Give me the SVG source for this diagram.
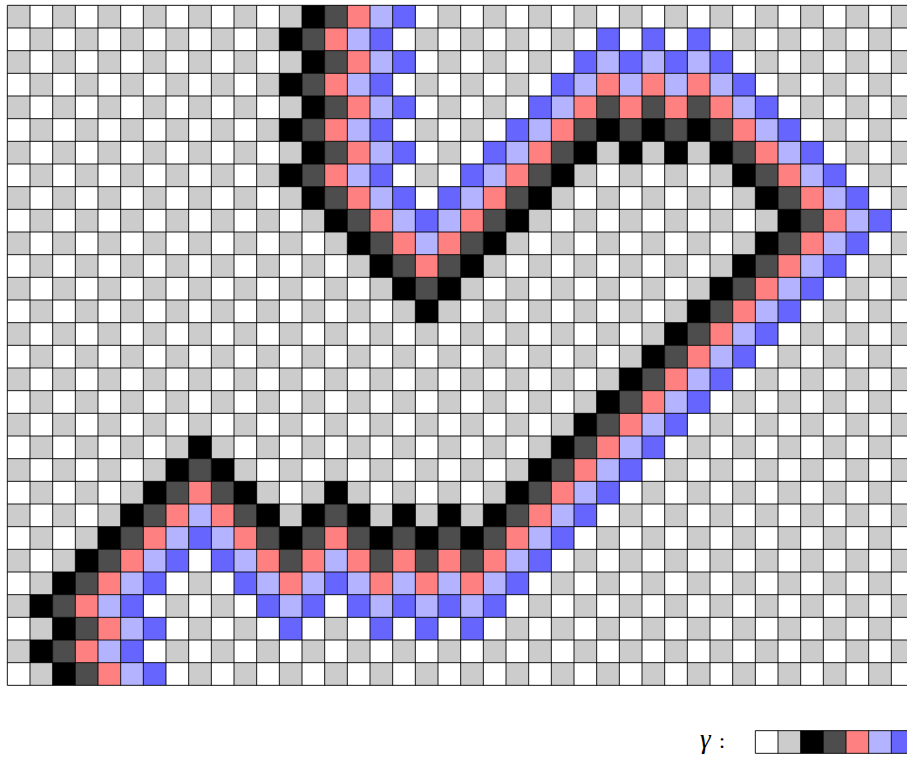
<svg xmlns="http://www.w3.org/2000/svg" width="907" height="757" viewBox="0 0 907 757">
<style>
.k{fill:#000000}
.d{fill:#4d4d4d}
.p{fill:#ff8080}
.l{fill:#b3b3ff}
.b{fill:#6666ff}
.w{fill:#ffffff}
.g{fill:#cccccc}
.grid{fill:none;stroke:#000;stroke-width:0.9px;vector-effect:non-scaling-stroke}
.lab{font-family:"Liberation Serif",serif;font-size:22px;fill:#000}
</style>
<defs>
<pattern id="chkA" patternUnits="userSpaceOnUse" x="0" y="0" width="2" height="2">
<rect x="0" y="0" width="2" height="2" fill="#ffffff"/>
<rect x="0" y="0" width="1" height="1" fill="#cccccc"/>
<rect x="1" y="1" width="1" height="1" fill="#cccccc"/>
</pattern>
<pattern id="chkB" patternUnits="userSpaceOnUse" x="0" y="0" width="2" height="2">
<rect x="0" y="0" width="2" height="2" fill="#ffffff"/>
<rect x="1" y="0" width="1" height="1" fill="#cccccc"/>
<rect x="0" y="1" width="1" height="1" fill="#cccccc"/>
</pattern>
</defs>
<rect x="0" y="0" width="907" height="757" fill="#ffffff"/>
<g id="board" transform="translate(7.333,5.333) scale(22.6667)">
<rect x="0" y="0" width="40" height="30" fill="url(#chkA)"/>
<polygon id="blue-side" points="15,0 15,8 18.5,11.5 26,4 31,4 36.5,9.5 22,24 11,24 8.5,21.5 4,26 4,30 40,30 40,0" fill="url(#chkB)"/>
<path class="k" d="M13 0h1v1h-1zM12 1h1v1h-1zM13 2h1v1h-1zM12 3h1v1h-1zM13 4h1v1h-1zM12 5h1v1h-1zM26 5h1v1h-1zM28 5h1v1h-1zM30 5h1v1h-1zM13 6h1v1h-1zM25 6h1v1h-1zM27 6h1v1h-1zM29 6h1v1h-1zM31 6h1v1h-1zM12 7h1v1h-1zM24 7h1v1h-1zM32 7h1v1h-1zM13 8h1v1h-1zM23 8h1v1h-1zM33 8h1v1h-1zM14 9h1v1h-1zM22 9h1v1h-1zM34 9h1v1h-1zM15 10h1v1h-1zM21 10h1v1h-1zM33 10h1v1h-1zM16 11h1v1h-1zM20 11h1v1h-1zM32 11h1v1h-1zM17 12h1v1h-1zM19 12h1v1h-1zM31 12h1v1h-1zM18 13h1v1h-1zM30 13h1v1h-1zM29 14h1v1h-1zM28 15h1v1h-1zM27 16h1v1h-1zM26 17h1v1h-1zM25 18h1v1h-1zM8 19h1v1h-1zM24 19h1v1h-1zM7 20h1v1h-1zM9 20h1v1h-1zM23 20h1v1h-1zM6 21h1v1h-1zM10 21h1v1h-1zM14 21h1v1h-1zM22 21h1v1h-1zM5 22h1v1h-1zM11 22h1v1h-1zM13 22h1v1h-1zM15 22h1v1h-1zM17 22h1v1h-1zM19 22h1v1h-1zM21 22h1v1h-1zM4 23h1v1h-1zM12 23h1v1h-1zM16 23h1v1h-1zM18 23h1v1h-1zM20 23h1v1h-1zM3 24h1v1h-1zM2 25h1v1h-1zM1 26h1v1h-1zM2 27h1v1h-1zM1 28h1v1h-1zM2 29h1v1h-1z"/>
<path class="d" d="M14 0h1v1h-1zM13 1h1v1h-1zM14 2h1v1h-1zM13 3h1v1h-1zM14 4h1v1h-1zM26 4h1v1h-1zM28 4h1v1h-1zM30 4h1v1h-1zM13 5h1v1h-1zM25 5h1v1h-1zM27 5h1v1h-1zM29 5h1v1h-1zM31 5h1v1h-1zM14 6h1v1h-1zM24 6h1v1h-1zM32 6h1v1h-1zM13 7h1v1h-1zM23 7h1v1h-1zM33 7h1v1h-1zM14 8h1v1h-1zM22 8h1v1h-1zM34 8h1v1h-1zM15 9h1v1h-1zM21 9h1v1h-1zM35 9h1v1h-1zM16 10h1v1h-1zM20 10h1v1h-1zM34 10h1v1h-1zM17 11h1v1h-1zM19 11h1v1h-1zM33 11h1v1h-1zM18 12h1v1h-1zM32 12h1v1h-1zM31 13h1v1h-1zM30 14h1v1h-1zM29 15h1v1h-1zM28 16h1v1h-1zM27 17h1v1h-1zM26 18h1v1h-1zM25 19h1v1h-1zM8 20h1v1h-1zM24 20h1v1h-1zM7 21h1v1h-1zM9 21h1v1h-1zM23 21h1v1h-1zM6 22h1v1h-1zM10 22h1v1h-1zM14 22h1v1h-1zM22 22h1v1h-1zM5 23h1v1h-1zM11 23h1v1h-1zM13 23h1v1h-1zM15 23h1v1h-1zM17 23h1v1h-1zM19 23h1v1h-1zM21 23h1v1h-1zM4 24h1v1h-1zM12 24h1v1h-1zM16 24h1v1h-1zM18 24h1v1h-1zM20 24h1v1h-1zM3 25h1v1h-1zM2 26h1v1h-1zM3 27h1v1h-1zM2 28h1v1h-1zM3 29h1v1h-1z"/>
<path class="p" d="M15 0h1v1h-1zM14 1h1v1h-1zM15 2h1v1h-1zM14 3h1v1h-1zM26 3h1v1h-1zM28 3h1v1h-1zM30 3h1v1h-1zM15 4h1v1h-1zM25 4h1v1h-1zM27 4h1v1h-1zM29 4h1v1h-1zM31 4h1v1h-1zM14 5h1v1h-1zM24 5h1v1h-1zM32 5h1v1h-1zM15 6h1v1h-1zM23 6h1v1h-1zM33 6h1v1h-1zM14 7h1v1h-1zM22 7h1v1h-1zM34 7h1v1h-1zM15 8h1v1h-1zM21 8h1v1h-1zM35 8h1v1h-1zM16 9h1v1h-1zM20 9h1v1h-1zM36 9h1v1h-1zM17 10h1v1h-1zM19 10h1v1h-1zM35 10h1v1h-1zM18 11h1v1h-1zM34 11h1v1h-1zM33 12h1v1h-1zM32 13h1v1h-1zM31 14h1v1h-1zM30 15h1v1h-1zM29 16h1v1h-1zM28 17h1v1h-1zM27 18h1v1h-1zM26 19h1v1h-1zM25 20h1v1h-1zM8 21h1v1h-1zM24 21h1v1h-1zM7 22h1v1h-1zM9 22h1v1h-1zM23 22h1v1h-1zM6 23h1v1h-1zM10 23h1v1h-1zM14 23h1v1h-1zM22 23h1v1h-1zM5 24h1v1h-1zM11 24h1v1h-1zM13 24h1v1h-1zM15 24h1v1h-1zM17 24h1v1h-1zM19 24h1v1h-1zM21 24h1v1h-1zM4 25h1v1h-1zM12 25h1v1h-1zM16 25h1v1h-1zM18 25h1v1h-1zM20 25h1v1h-1zM3 26h1v1h-1zM4 27h1v1h-1zM3 28h1v1h-1zM4 29h1v1h-1z"/>
<path class="l" d="M16 0h1v1h-1zM15 1h1v1h-1zM16 2h1v1h-1zM26 2h1v1h-1zM28 2h1v1h-1zM30 2h1v1h-1zM15 3h1v1h-1zM25 3h1v1h-1zM27 3h1v1h-1zM29 3h1v1h-1zM31 3h1v1h-1zM16 4h1v1h-1zM24 4h1v1h-1zM32 4h1v1h-1zM15 5h1v1h-1zM23 5h1v1h-1zM33 5h1v1h-1zM16 6h1v1h-1zM22 6h1v1h-1zM34 6h1v1h-1zM15 7h1v1h-1zM21 7h1v1h-1zM35 7h1v1h-1zM16 8h1v1h-1zM20 8h1v1h-1zM36 8h1v1h-1zM17 9h1v1h-1zM19 9h1v1h-1zM37 9h1v1h-1zM18 10h1v1h-1zM36 10h1v1h-1zM35 11h1v1h-1zM34 12h1v1h-1zM33 13h1v1h-1zM32 14h1v1h-1zM31 15h1v1h-1zM30 16h1v1h-1zM29 17h1v1h-1zM28 18h1v1h-1zM27 19h1v1h-1zM26 20h1v1h-1zM25 21h1v1h-1zM8 22h1v1h-1zM24 22h1v1h-1zM7 23h1v1h-1zM9 23h1v1h-1zM23 23h1v1h-1zM6 24h1v1h-1zM10 24h1v1h-1zM14 24h1v1h-1zM22 24h1v1h-1zM5 25h1v1h-1zM11 25h1v1h-1zM13 25h1v1h-1zM15 25h1v1h-1zM17 25h1v1h-1zM19 25h1v1h-1zM21 25h1v1h-1zM4 26h1v1h-1zM12 26h1v1h-1zM16 26h1v1h-1zM18 26h1v1h-1zM20 26h1v1h-1zM5 27h1v1h-1zM4 28h1v1h-1zM5 29h1v1h-1z"/>
<path class="b" d="M17 0h1v1h-1zM16 1h1v1h-1zM26 1h1v1h-1zM28 1h1v1h-1zM30 1h1v1h-1zM17 2h1v1h-1zM25 2h1v1h-1zM27 2h1v1h-1zM29 2h1v1h-1zM31 2h1v1h-1zM16 3h1v1h-1zM24 3h1v1h-1zM32 3h1v1h-1zM17 4h1v1h-1zM23 4h1v1h-1zM33 4h1v1h-1zM16 5h1v1h-1zM22 5h1v1h-1zM34 5h1v1h-1zM17 6h1v1h-1zM21 6h1v1h-1zM35 6h1v1h-1zM16 7h1v1h-1zM20 7h1v1h-1zM36 7h1v1h-1zM17 8h1v1h-1zM19 8h1v1h-1zM37 8h1v1h-1zM18 9h1v1h-1zM38 9h1v1h-1zM37 10h1v1h-1zM36 11h1v1h-1zM35 12h1v1h-1zM34 13h1v1h-1zM33 14h1v1h-1zM32 15h1v1h-1zM31 16h1v1h-1zM30 17h1v1h-1zM29 18h1v1h-1zM28 19h1v1h-1zM27 20h1v1h-1zM26 21h1v1h-1zM25 22h1v1h-1zM8 23h1v1h-1zM24 23h1v1h-1zM7 24h1v1h-1zM9 24h1v1h-1zM23 24h1v1h-1zM6 25h1v1h-1zM10 25h1v1h-1zM14 25h1v1h-1zM22 25h1v1h-1zM5 26h1v1h-1zM11 26h1v1h-1zM13 26h1v1h-1zM15 26h1v1h-1zM17 26h1v1h-1zM19 26h1v1h-1zM21 26h1v1h-1zM6 27h1v1h-1zM12 27h1v1h-1zM16 27h1v1h-1zM18 27h1v1h-1zM20 27h1v1h-1zM5 28h1v1h-1zM6 29h1v1h-1z"/>
<path class="grid" d="M0 0V30M1 0V30M2 0V30M3 0V30M4 0V30M5 0V30M6 0V30M7 0V30M8 0V30M9 0V30M10 0V30M11 0V30M12 0V30M13 0V30M14 0V30M15 0V30M16 0V30M17 0V30M18 0V30M19 0V30M20 0V30M21 0V30M22 0V30M23 0V30M24 0V30M25 0V30M26 0V30M27 0V30M28 0V30M29 0V30M30 0V30M31 0V30M32 0V30M33 0V30M34 0V30M35 0V30M36 0V30M37 0V30M38 0V30M39 0V30M40 0V30M0 0H40M0 1H40M0 2H40M0 3H40M0 4H40M0 5H40M0 6H40M0 7H40M0 8H40M0 9H40M0 10H40M0 11H40M0 12H40M0 13H40M0 14H40M0 15H40M0 16H40M0 17H40M0 18H40M0 19H40M0 20H40M0 21H40M0 22H40M0 23H40M0 24H40M0 25H40M0 26H40M0 27H40M0 28H40M0 29H40M0 30H40"/>
</g>
<g id="legend">
<text class="lab" x="700" y="748"><tspan font-style="italic" font-size="27px">γ</tspan><tspan x="719">:</tspan></text>
<g transform="translate(7.333,5.333) scale(22.6667)">
<rect class="w" x="33" y="32" width="1" height="1"/>
<rect class="g" x="34" y="32" width="1" height="1"/>
<rect class="k" x="35" y="32" width="1" height="1"/>
<rect class="d" x="36" y="32" width="1" height="1"/>
<rect class="p" x="37" y="32" width="1" height="1"/>
<rect class="l" x="38" y="32" width="1" height="1"/>
<rect class="b" x="39" y="32" width="1" height="1"/>
<path class="grid" d="M33 32H40M33 33H40M33 32V33M34 32V33M35 32V33M36 32V33M37 32V33M38 32V33M39 32V33M40 32V33"/>
</g>
</g>
</svg>
